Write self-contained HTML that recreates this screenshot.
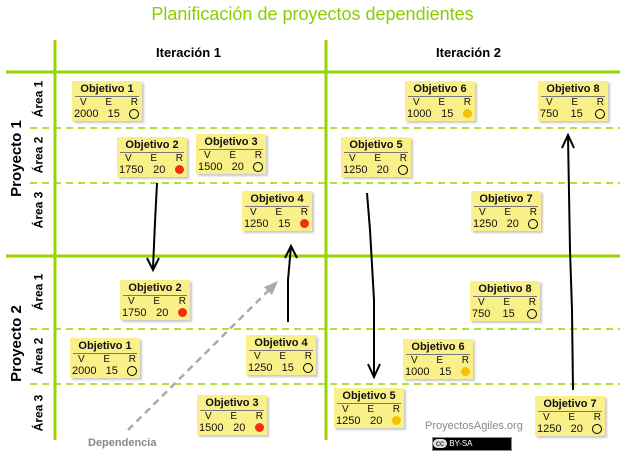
<!DOCTYPE html>
<html><head><meta charset="utf-8"><style>
body{margin:0;width:625px;height:451px;background:#fff;position:relative;overflow:hidden;font-family:"Liberation Sans",sans-serif}
.a{position:absolute}
.n{position:absolute;width:70px;height:40px;background:#f9f08a;box-shadow:2px 2px 2px #c8c8c8;font-size:10px;color:#111}
.n b{display:block;text-align:center;font-size:11px;margin-top:2px;border-bottom:1px solid #777;margin-left:3px;margin-right:3px;line-height:13px}
.n .r{display:flex;justify-content:space-between;padding:0 4px 0 8px;line-height:11px}
.n .r2{display:flex;justify-content:space-between;padding:0 3px 0 2px;line-height:12px;font-size:11px}
.o{display:inline-block;width:8px;height:8px;border:1px solid #000;border-radius:50%;margin-top:1px}
.red{display:inline-block;width:9px;height:9px;background:#f03010;border-radius:50%;margin-top:1px}
.yel{display:inline-block;width:9px;height:9px;background:#f8c000;border-radius:50%;margin-top:1px}
.v{position:absolute;font-weight:bold;font-size:12px;transform:rotate(-90deg);transform-origin:center;white-space:nowrap}
</style></head><body>
<div class="a" style="left:0;width:625px;top:4px;text-align:center;color:#8ccc00;font-size:18px">Planificación de proyectos dependientes</div>
<svg class="a" style="left:0;top:0" width="625" height="451">
<g stroke="#99d400">
<line x1="55" y1="40" x2="55" y2="440" stroke-width="3"/>
<line x1="326" y1="40" x2="326" y2="440" stroke-width="3"/>
<line x1="6" y1="72" x2="620" y2="72" stroke-width="3"/>
<line x1="6" y1="256" x2="620" y2="256" stroke-width="3"/>
<g stroke-width="1.5" stroke-dasharray="7,5">
<line x1="30" y1="128" x2="620" y2="128"/><line x1="30" y1="183" x2="620" y2="183"/>
<line x1="30" y1="329" x2="620" y2="329"/><line x1="30" y1="384" x2="620" y2="384"/>
</g></g>
<g stroke="#000" stroke-width="2" fill="none">
<path d="M157 183 L155 222 L153 268 M147 258 L153 270 L159 258"/>
<path d="M288 322 L288 280 L291 246 M285 258 L291 246 L297 258"/>
<path d="M367 193 L370 230 L374 300 L374 375 M368 364 L374 377 L380 364"/>
<path d="M573 390 L572 310 L570 250 L568 136 M562 148 L568 135 L574 148"/>
</g>
<path d="M128 430 L274 285" stroke="#aaa" stroke-width="2.5" stroke-dasharray="7,5"/>
<path d="M278 281 L264 287 L272 295 Z" fill="#aaa"/>
</svg>
<div class="a" style="left:156px;top:45px;font-weight:bold;font-size:13px">Iteración 1</div>
<div class="a" style="left:436px;top:45px;font-weight:bold;font-size:13px">Iteración 2</div>
<div class="v" style="left:-22px;top:150px;font-size:15px">Proyecto 1</div>
<div class="v" style="left:-22px;top:335px;font-size:15px">Proyecto 2</div>
<div class="v" style="left:20px;top:92px">Área 1</div>
<div class="v" style="left:20px;top:148px">Área 2</div>
<div class="v" style="left:20px;top:203px">Área 3</div>
<div class="v" style="left:20px;top:285px">Área 1</div>
<div class="v" style="left:20px;top:349px">Área 2</div>
<div class="v" style="left:20px;top:406px">Área 3</div>

<div class="n" style="left:72px;top:81px"><b>Objetivo 1</b><div class="r"><span>V</span><span>E</span><span>R</span></div><div class="r2"><span>2000</span><span>15</span><span class="o"></span></div></div>
<div class="n" style="left:117px;top:137px"><b>Objetivo 2</b><div class="r"><span>V</span><span>E</span><span>R</span></div><div class="r2"><span>1750</span><span>20</span><span class="red"></span></div></div>
<div class="n" style="left:196px;top:134px"><b>Objetivo 3</b><div class="r"><span>V</span><span>E</span><span>R</span></div><div class="r2"><span>1500</span><span>20</span><span class="o"></span></div></div>
<div class="n" style="left:242px;top:191px"><b>Objetivo 4</b><div class="r"><span>V</span><span>E</span><span>R</span></div><div class="r2"><span>1250</span><span>15</span><span class="red"></span></div></div>
<div class="n" style="left:405px;top:81px"><b>Objetivo 6</b><div class="r"><span>V</span><span>E</span><span>R</span></div><div class="r2"><span>1000</span><span>15</span><span class="yel"></span></div></div>
<div class="n" style="left:538px;top:81px"><b>Objetivo 8</b><div class="r"><span>V</span><span>E</span><span>R</span></div><div class="r2"><span>750</span><span>15</span><span class="o"></span></div></div>
<div class="n" style="left:341px;top:137px"><b>Objetivo 5</b><div class="r"><span>V</span><span>E</span><span>R</span></div><div class="r2"><span>1250</span><span>20</span><span class="o"></span></div></div>
<div class="n" style="left:471px;top:191px"><b>Objetivo 7</b><div class="r"><span>V</span><span>E</span><span>R</span></div><div class="r2"><span>1250</span><span>20</span><span class="o"></span></div></div>

<div class="n" style="left:120px;top:280px"><b>Objetivo 2</b><div class="r"><span>V</span><span>E</span><span>R</span></div><div class="r2"><span>1750</span><span>20</span><span class="red"></span></div></div>
<div class="n" style="left:470px;top:281px"><b>Objetivo 8</b><div class="r"><span>V</span><span>E</span><span>R</span></div><div class="r2"><span>750</span><span>15</span><span class="o"></span></div></div>
<div class="n" style="left:70px;top:338px"><b>Objetivo 1</b><div class="r"><span>V</span><span>E</span><span>R</span></div><div class="r2"><span>2000</span><span>15</span><span class="o"></span></div></div>
<div class="n" style="left:246px;top:335px"><b>Objetivo 4</b><div class="r"><span>V</span><span>E</span><span>R</span></div><div class="r2"><span>1250</span><span>15</span><span class="o"></span></div></div>
<div class="n" style="left:403px;top:339px"><b>Objetivo 6</b><div class="r"><span>V</span><span>E</span><span>R</span></div><div class="r2"><span>1000</span><span>15</span><span class="yel"></span></div></div>
<div class="n" style="left:197px;top:395px"><b>Objetivo 3</b><div class="r"><span>V</span><span>E</span><span>R</span></div><div class="r2"><span>1500</span><span>20</span><span class="red"></span></div></div>
<div class="n" style="left:334px;top:388px"><b>Objetivo 5</b><div class="r"><span>V</span><span>E</span><span>R</span></div><div class="r2"><span>1250</span><span>20</span><span class="yel"></span></div></div>
<div class="n" style="left:535px;top:396px"><b>Objetivo 7</b><div class="r"><span>V</span><span>E</span><span>R</span></div><div class="r2"><span>1250</span><span>20</span><span class="o"></span></div></div>

<div class="a" style="left:88px;top:437px;font-size:11px;font-weight:bold;color:#888">Dependencia</div>
<div class="a" style="left:425px;top:420px;font-size:11px;color:#888">ProyectosAgiles.org</div>
<div class="a" style="left:432px;top:437px;width:78px;height:12px;background:#000;border:1px solid #888;color:#fff;font-size:8px;line-height:12px"><span style="background:#ddd;color:#000;padding:0 3px;border-radius:5px">cc</span> BY-SA</div>
</body></html>
